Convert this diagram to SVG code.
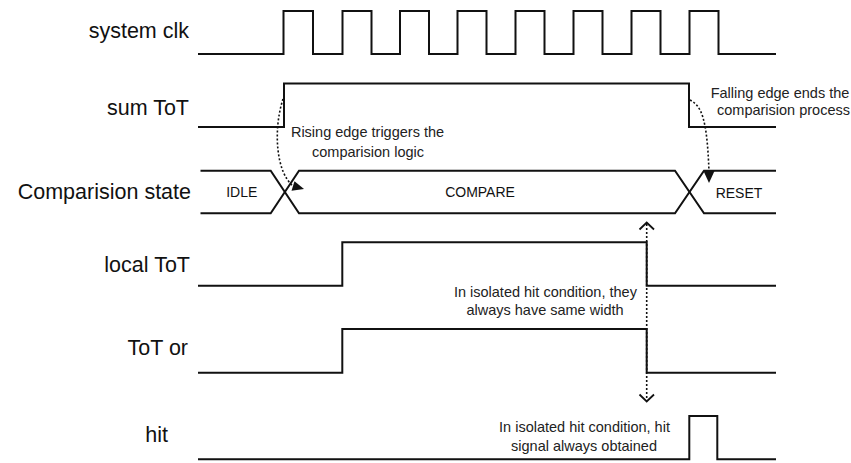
<svg xmlns="http://www.w3.org/2000/svg" width="851" height="463" viewBox="0 0 851 463">
<style>
.wave{fill:none;stroke:#111;stroke-width:2;stroke-linejoin:miter}
.lbl{font-family:"Liberation Sans",Arial,sans-serif;font-size:21.5px;fill:#111;text-anchor:end}
.st{font-family:"Liberation Sans",Arial,sans-serif;font-size:14px;fill:#111;text-anchor:middle}
.note{font-family:"Liberation Sans",Arial,sans-serif;font-size:14.5px;fill:#222;text-anchor:middle}
.dot{fill:none;stroke:#111;stroke-width:1.6;stroke-dasharray:2 2}
.chev{fill:none;stroke:#111;stroke-width:1.8}
.head{fill:#111;stroke:none}
</style>
<rect width="851" height="463" fill="#fff"/>
<g id="system-clk">
<text class="lbl" x="189" y="38">system clk</text>
<path class="wave" d="M198 54 H283.5 V11 H313 V54 H342.5 V11 H371.5 V54 H400 V11 H429 V54 H457.5 V11 H486.5 V54 H515.5 V11 H544.5 V54 H573.5 V11 H602.5 V54 H631.5 V11 H660.5 V54 H689.5 V11 H718.5 V54 H776"/>
</g>
<g id="sum-tot">
<text class="lbl" x="189" y="115">sum ToT</text>
<path class="wave" d="M198 127 H284 V83.5 H689 V127 H776"/>
</g>
<g id="comparision-state">
<text class="lbl" x="191" y="199">Comparision state</text>
<path class="wave" d="M200.5 170.7 H270.7 L299 213.3 H675 L704 170.7 H776"/>
<path class="wave" d="M200.5 213.3 H270.7 L299 170.7 H675 L704 213.3 H776"/>
<text class="st" x="241.7" y="197">IDLE</text>
<text class="st" x="480" y="197">COMPARE</text>
<text class="st" x="739" y="198">RESET</text>
</g>
<g id="local-tot">
<text class="lbl" x="190" y="272">local ToT</text>
<path class="wave" d="M198 285.7 H342.3 V242.3 H646.7 V285.7 H776"/>
</g>
<g id="tot-or">
<text class="lbl" x="188" y="355">ToT or</text>
<path class="wave" d="M198 372.7 H342.3 V329 H646.7 V372.7 H776"/>
</g>
<g id="hit">
<text class="lbl" x="168" y="442">hit</text>
<path class="wave" d="M198 459.3 H689.3 V416 H717.3 V459.3 H776"/>
</g>
<g id="connectors">
<path class="dot" d="M283 99 C273 130, 276 172, 293 186"/>
<polygon class="head" points="304,189 291.5,190.8 294.5,181.2"/>
<path class="dot" d="M690 100 C701 106, 707 116, 709 172"/>
<polygon class="head" points="709,183 703.5,171 714.5,171"/>
<path class="dot" d="M646.7 224 V400"/>
<path class="chev" d="M639.5 229.5 L646.7 222.5 L654 229.5"/>
<path class="chev" d="M639.5 394.5 L646.7 401.5 L654 394.5"/>
</g>
<g id="notes">
<text class="note" x="367.5" y="137">Rising edge triggers the</text>
<text class="note" x="368" y="157">comparision logic</text>
<text class="note" x="780" y="98">Falling edge ends the</text>
<text class="note" x="783.5" y="115">comparision process</text>
<text class="note" x="545.4" y="297">In isolated hit condition, they</text>
<text class="note" x="545" y="315">always have same width</text>
<text class="note" x="584.5" y="432">In isolated hit condition, hit</text>
<text class="note" x="584" y="451">signal always obtained</text>
</g>
</svg>
